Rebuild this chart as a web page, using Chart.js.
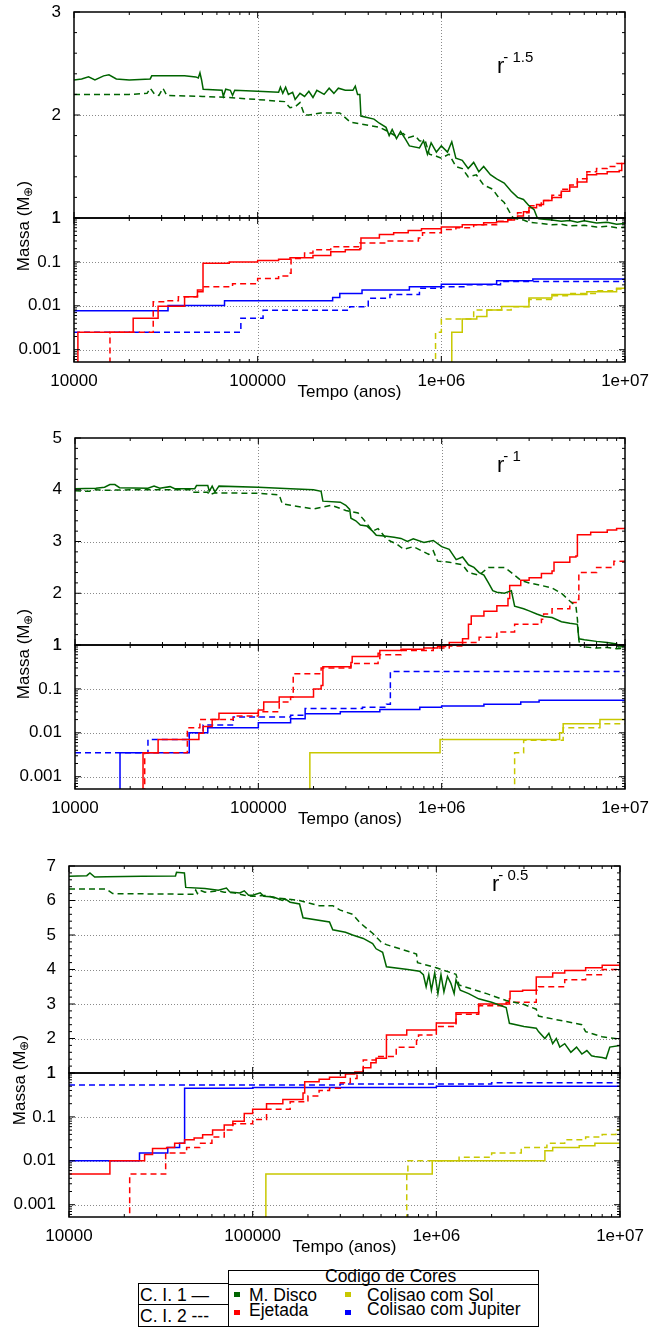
<!DOCTYPE html>
<html>
<head>
<meta charset="utf-8">
<script src="https://cdn.jsdelivr.net/npm/chart.js@4.4.0/dist/chart.umd.min.js"></script>
<style>
  body { margin: 0; background: #fff; width: 656px; height: 1327px; position: relative; overflow: hidden;
         font-family: "Liberation Sans", Arial, Helvetica, sans-serif; color: #000; }
  canvas { position: absolute; left: 0; }
  .ylab { position: absolute; width: 140px; height: 20px; line-height: 20px; text-align: center;
          font-size: 17px; transform: rotate(-90deg); white-space: nowrap; }
  .note { position: absolute; font-size: 22px; line-height: 22px; white-space: nowrap; }
  .note span { font-size: 15px; position: relative; top: -11px; margin-left: -1px; }
  .box { position: absolute; border: 1px solid #000; box-sizing: border-box; }
  .hl { position: absolute; height: 1px; background: #000; }
  .lt { position: absolute; font-size: 17.5px; line-height: 20px; white-space: nowrap; }
  .sq { position: absolute; width: 6px; height: 5px; }
</style>
</head>
<body>
<canvas id="u1"></canvas><canvas id="l1"></canvas>
<canvas id="u2"></canvas><canvas id="l2"></canvas>
<canvas id="u3"></canvas><canvas id="l3"></canvas>

<div class="ylab" style="left:-46px;top:216px">Massa (M<span style="font-size:12px;vertical-align:-3px">⊕</span>)</div>
<div class="ylab" style="left:-46px;top:644px">Massa (M<span style="font-size:12px;vertical-align:-3px">⊕</span>)</div>
<div class="ylab" style="left:-50px;top:1070px">Massa (M<span style="font-size:12px;vertical-align:-3px">⊕</span>)</div>

<div class="note" style="left:497px;top:55px">r<span>- 1.5</span></div>
<div class="note" style="left:497px;top:454px">r<span>- 1</span></div>
<div class="note" style="left:492px;top:873px">r<span>- 0.5</span></div>

<div class="box" style="left:228px;top:1270px;width:311px;height:57px"></div>
<div class="hl" style="left:228px;top:1284px;width:311px"></div>
<div class="box" style="left:138px;top:1283px;width:91px;height:44px"></div>
<div class="hl" style="left:138px;top:1304px;width:91px"></div>
<div class="lt" style="left:325px;top:1266px">Codigo de Cores</div>
<div class="lt" style="left:140px;top:1285px">C. I. 1 —</div>
<div class="lt" style="left:140px;top:1306px">C. I. 2 ---</div>
<div class="sq" style="left:234px;top:1292px;background:#006400"></div>
<div class="lt" style="left:249px;top:1285px">M. Disco</div>
<div class="sq" style="left:234px;top:1310px;background:#ff0000"></div>
<div class="lt" style="left:249px;top:1300px">Ejetada</div>
<div class="sq" style="left:345px;top:1292px;background:#c8c800"></div>
<div class="lt" style="left:367px;top:1285px">Colisao com Sol</div>
<div class="sq" style="left:345px;top:1310px;background:#0000ff"></div>
<div class="lt" style="left:367px;top:1299px">Colisao com Jupiter</div>

<script>
// tick values and labels
const xTicks = [1e4, 1e5, 1e6, 1e7];
const xTickLabels = ['10000', '100000', '1e+06', '1e+07'];
const logTicks = [0.001, 0.01, 0.1, 1];
const logTickLabels = ['0.001', '0.01', '0.1', '1'];
const p1UpperTicks = [1, 2, 3];
const p2UpperTicks = [1, 2, 3, 4, 5];
const p3UpperTicks = [1, 2, 3, 4, 5, 6, 7];
const minorSteps = [2, 3, 4, 5, 6, 7, 8, 9];

// panel 1 (r^-1.5): [tempo, massa]; A = C. I. 1 (solid), B = C. I. 2 (dashed)
const p1DiscoA = [[1e4,2.34],[1.1e4,2.35],[1.2e4,2.37],[1.3e4,2.34],[1.45e4,2.38],[1.55e4,2.39],[1.7e4,2.35],[2e4,2.34],[2.6e4,2.35],[2.65e4,2.38],[4e4,2.38],[4.6e4,2.37],[4.75e4,2.36],[4.85e4,2.41],[4.95e4,2.34],[5.05e4,2.25],[6.4e4,2.24],[6.5e4,2.18],[6.7e4,2.25],[7.1e4,2.24],[7.3e4,2.19],[7.5e4,2.24],[1e5,2.23],[1.3e5,2.22],[1.33e5,2.27],[1.37e5,2.21],[1.42e5,2.27],[1.47e5,2.2],[1.55e5,2.22],[1.6e5,2.15],[1.7e5,2.21],[1.8e5,2.18],[1.9e5,2.23],[2e5,2.17],[2.1e5,2.24],[2.3e5,2.2],[2.45e5,2.26],[2.6e5,2.21],[2.75e5,2.26],[3e5,2.24],[3.3e5,2.24],[3.4e5,2.28],[3.5e5,2.2],[3.6e5,2.2],[3.65e5,1.99],[4.3e5,1.96],[4.6e5,1.92],[5e5,1.88],[5.2e5,1.8],[5.4e5,1.86],[5.7e5,1.77],[6e5,1.84],[6.4e5,1.76],[6.7e5,1.7],[7.6e5,1.68],[8e5,1.75],[8.4e5,1.62],[8.8e5,1.73],[9.4e5,1.64],[1e6,1.7],[1.08e6,1.64],[1.14e6,1.74],[1.2e6,1.58],[1.3e6,1.56],[1.4e6,1.48],[1.5e6,1.54],[1.6e6,1.45],[1.7e6,1.5],[1.85e6,1.42],[2e6,1.38],[2.2e6,1.34],[2.4e6,1.26],[2.6e6,1.2],[2.8e6,1.18],[3e6,1.12],[3.2e6,1.08],[3.4e6,0.96],[4e6,0.9],[4.5e6,0.84],[5e6,0.88],[5.5e6,0.8],[6e6,0.86],[7e6,0.77],[8e6,0.8],[9e6,0.72],[1e7,0.75]];
const p1DiscoB = [[1e4,2.2],[2e4,2.2],[2.5e4,2.21],[2.6e4,2.26],[2.75e4,2.2],[2.9e4,2.19],[3.05e4,2.26],[3.2e4,2.19],[5e4,2.18],[7e4,2.17],[1e5,2.15],[1.4e5,2.13],[1.5e5,2.07],[1.6e5,2.08],[1.7e5,2.12],[1.8e5,2.0],[1.9e5,2.0],[2.2e5,2.02],[2.8e5,2.02],[3.2e5,1.93],[4e5,1.9],[4.6e5,1.88],[5e5,1.85],[5.6e5,1.8],[6.2e5,1.82],[6.6e5,1.78],[7.2e5,1.8],[7.6e5,1.75],[8.2e5,1.74],[8.6e5,1.62],[9.4e5,1.6],[1e6,1.58],[1.1e6,1.62],[1.2e6,1.5],[1.3e6,1.48],[1.4e6,1.4],[1.55e6,1.42],[1.7e6,1.32],[1.9e6,1.28],[2.05e6,1.2],[2.2e6,1.15],[2.35e6,1.06],[2.5e6,0.98],[2.8e6,0.9],[3e6,0.8],[3.5e6,0.75],[4e6,0.7],[4.5e6,0.72],[5e6,0.66],[6e6,0.68],[7e6,0.62],[8e6,0.65],[9e6,0.6],[1e7,0.62]];
const p1EjetA = [[1e4,1e-5],[1.05e4,0.0025],[2.1e4,0.0052],[2.87e4,0.0098],[4e4,0.016],[4.7e4,0.021],[5.04e4,0.093],[7e4,0.1],[1e5,0.107],[1.3e5,0.115],[1.5e5,0.125],[2e5,0.14],[2.5e5,0.17],[3e5,0.19],[3.6e5,0.2],[3.65e5,0.35],[4.6e5,0.42],[5.5e5,0.46],[6.6e5,0.52],[7.8e5,0.57],[1e6,0.62],[1.3e6,0.7],[1.7e6,0.78],[2e6,0.82],[2.3e6,0.9],[2.5e6,0.97],[2.6e6,1.02],[2.8e6,1.06],[3e6,1.1],[3.3e6,1.13],[3.6e6,1.17],[4e6,1.2],[4.5e6,1.26],[5e6,1.3],[5.5e6,1.35],[6.2e6,1.42],[7e6,1.43],[8e6,1.45],[9.3e6,1.46],[9.6e6,1.53],[1e7,1.55]];
const p1EjetB = [[1e4,1e-5],[1.57e4,0.0025],[2.7e4,0.0123],[3.2e4,0.013],[3.7e4,0.016],[4.7e4,0.023],[5e4,0.027],[7.3e4,0.032],[1e5,0.042],[1.3e5,0.048],[1.5e5,0.055],[1.52e5,0.12],[1.8e5,0.16],[2e5,0.19],[2.5e5,0.22],[3.6e5,0.27],[5e5,0.3],[7.5e5,0.35],[7.9e5,0.46],[1e6,0.55],[1.2e6,0.6],[1.5e6,0.7],[2e6,0.84],[2.3e6,0.92],[2.45e6,1.0],[2.6e6,1.05],[3e6,1.12],[3.5e6,1.17],[4e6,1.22],[4.5e6,1.28],[5e6,1.32],[5.5e6,1.38],[6.2e6,1.45],[7e6,1.48],[8e6,1.5],[9e6,1.53],[1e7,1.57]];
const p1SolA = [[1e4,1e-5],[1.14e6,0.0025],[1.3e6,0.005],[1.56e6,0.0057],[1.77e6,0.008],[2.13e6,0.0097],[3e6,0.015],[4e6,0.018],[6.2e6,0.021],[9e6,0.025],[1e7,0.028]];
const p1SolB = [[1e4,1e-5],[9.3e5,0.0025],[1e6,0.005],[1.5e6,0.008],[2.4e6,0.0095],[3e6,0.014],[4e6,0.017],[5e6,0.019],[7e6,0.022],[9e6,0.024],[1e7,0.026]];
const p1JupA = [[1e4,0.0077],[3.25e4,0.0101],[6.6e4,0.013],[2.56e5,0.0155],[2.8e5,0.019],[3.7e5,0.023],[6.7e5,0.027],[1e6,0.031],[2e6,0.037],[3.15e6,0.041],[1e7,0.041]];
const p1JupB = [[1e4,0.0025],[8.1e4,0.0052],[1.07e5,0.0079],[3.17e5,0.0095],[4e5,0.0148],[5.25e5,0.018],[7.6e5,0.025],[1e6,0.027],[1.37e6,0.03],[2.1e6,0.036],[1e7,0.036]];

// panel 2 (r^-1)
const p2DiscoA = [[1e4,4.02],[1.3e4,4.03],[1.45e4,4.05],[1.55e4,4.1],[1.65e4,4.1],[1.75e4,4.04],[2.5e4,4.03],[2.7e4,4.07],[2.9e4,4.03],[3.3e4,4.06],[3.5e4,4.02],[4.5e4,4.02],[4.6e4,4.08],[5.3e4,4.08],[5.4e4,3.97],[5.6e4,4.07],[5.8e4,3.96],[6.1e4,4.07],[1e5,4.05],[1.5e5,4.02],[2e5,4.0],[2.2e5,3.97],[2.25e5,3.78],[2.8e5,3.76],[3e5,3.7],[3.15e5,3.62],[3.2e5,3.45],[3.4e5,3.4],[3.6e5,3.32],[3.9e5,3.3],[4.2e5,3.2],[4.4e5,3.12],[5e5,3.1],[5.5e5,3.08],[6e5,3.06],[6.5e5,3.0],[7e5,3.05],[8e5,2.98],[9e5,3.02],[1e6,2.9],[1.1e6,2.85],[1.2e6,2.65],[1.3e6,2.7],[1.4e6,2.55],[1.5e6,2.5],[1.6e6,2.4],[1.7e6,2.35],[1.8e6,2.2],[1.9e6,2.05],[2e6,2.02],[2.2e6,2.0],[2.4e6,2.05],[2.5e6,1.75],[2.8e6,1.7],[3e6,1.66],[3.3e6,1.6],[3.6e6,1.55],[4e6,1.53],[4.5e6,1.45],[5e6,1.42],[5.5e6,1.4],[5.6e6,1.12],[6e6,1.1],[7e6,1.07],[8e6,1.05],[9e6,1.02],[9.2e6,0.9],[1e7,0.92]];
const p2DiscoB = [[1e4,3.98],[1.2e4,3.97],[1.25e4,4.0],[1.5e4,3.99],[2e4,4.0],[3e4,4.0],[4.3e4,4.0],[4.4e4,3.95],[5.3e4,3.95],[5.4e4,3.9],[5.8e4,3.94],[1e5,3.93],[1.3e5,3.9],[1.35e5,3.73],[1.5e5,3.7],[2e5,3.63],[2.5e5,3.7],[3e5,3.6],[3.5e5,3.55],[3.8e5,3.4],[4.2e5,3.2],[4.5e5,3.25],[5e5,3.05],[5.3e5,3.0],[5.7e5,2.95],[6.2e5,2.85],[7e5,2.9],[8e5,2.8],[8.5e5,2.75],[9e5,2.82],[9.5e5,2.62],[1.1e6,2.6],[1.3e6,2.55],[1.4e6,2.4],[1.6e6,2.35],[1.8e6,2.5],[2.2e6,2.5],[2.4e6,2.4],[2.7e6,2.25],[3e6,2.2],[3.5e6,2.15],[4e6,2.1],[4.5e6,2.0],[5e6,1.85],[5.4e6,1.75],[5.5e6,1.5],[5.6e6,1.1],[5.7e6,0.95],[6e6,0.9],[7e6,0.85],[8e6,0.88],[9e6,0.82],[1e7,0.85]];
const p2EjetA = [[1e4,1e-5],[2.35e4,0.0035],[2.84e4,0.007],[4.74e4,0.0098],[5e4,0.014],[5.6e4,0.02],[6.1e4,0.028],[1e5,0.033],[1.07e5,0.05],[1.3e5,0.065],[2e5,0.1],[2.2e5,0.12],[2.25e5,0.32],[3.2e5,0.4],[3.25e5,0.55],[4.5e5,0.65],[4.6e5,0.75],[6e5,0.8],[8e5,0.85],[9.5e5,0.92],[1.05e6,1.0],[1.1e6,1.05],[1.3e6,1.12],[1.4e6,1.4],[1.45e6,1.56],[1.7e6,1.65],[2e6,1.76],[2.3e6,1.9],[2.35e6,2.15],[2.7e6,2.25],[3e6,2.3],[3.5e6,2.38],[4e6,2.43],[4.1e6,2.6],[5e6,2.7],[5.4e6,2.72],[5.5e6,3.13],[6.5e6,3.18],[8e6,3.22],[9e6,3.25],[1e7,3.27]];
const p2EjetB = [[1e4,1e-5],[2.4e4,0.0035],[4.1e4,0.013],[4.8e4,0.02],[7.3e4,0.024],[1e5,0.03],[1.3e5,0.05],[1.5e5,0.065],[1.55e5,0.22],[2.2e5,0.3],[3.2e5,0.38],[4.5e5,0.45],[4.6e5,0.6],[6e5,0.75],[9e5,0.85],[1.1e6,0.95],[1.3e6,1.05],[1.6e6,1.15],[2e6,1.25],[2.5e6,1.4],[3.5e6,1.5],[3.6e6,1.6],[4e6,1.7],[5e6,1.82],[5.5e6,1.88],[5.6e6,2.4],[7e6,2.5],[8.5e6,2.55],[8.7e6,2.62],[1e7,2.65]];
const p2SolA = [[1e4,1e-5],[1.91e5,0.0035],[9.8e5,0.007],[4.4e6,0.01],[4.6e6,0.016],[7.3e6,0.02],[1e7,0.02]];
const p2SolB = [[1e4,1e-5],[2.5e6,0.0035],[2.8e6,0.0068],[4.6e6,0.013],[7.3e6,0.016],[1e7,0.016]];
const p2JupA = [[1e4,1e-5],[1.76e4,0.0035],[4.2e4,0.01],[5.3e4,0.013],[1e5,0.017],[1.5e5,0.021],[1.8e5,0.027],[2.8e5,0.03],[4.6e5,0.034],[7.6e5,0.038],[1e6,0.041],[1.7e6,0.045],[2.7e6,0.05],[3.4e6,0.055],[1e7,0.055]];
const p2JupB = [[1e4,0.0035],[2.5e4,0.007],[4.2e4,0.01],[5e4,0.015],[7.3e4,0.023],[1.5e5,0.025],[1.8e5,0.036],[3.7e5,0.038],[5e5,0.045],[5.25e5,0.25],[1e7,0.26]];

// panel 3 (r^-0.5)
const p3DiscoA = [[1e4,6.7],[1.25e4,6.72],[1.3e4,6.8],[1.38e4,6.68],[1.6e4,6.69],[2.5e4,6.7],[3.8e4,6.71],[3.85e4,6.82],[4.25e4,6.8],[4.32e4,6.38],[5.5e4,6.35],[6.5e4,6.3],[7.2e4,6.36],[7.5e4,6.25],[8.5e4,6.22],[9e4,6.28],[9.5e4,6.15],[1e5,6.15],[1.1e5,6.22],[1.15e5,6.12],[1.3e5,6.1],[1.45e5,6.0],[1.5e5,6.05],[1.6e5,5.95],[1.8e5,5.9],[1.88e5,5.5],[2.62e5,5.38],[2.73e5,5.15],[3.2e5,5.08],[3.5e5,5.0],[4e5,4.9],[4.5e5,4.75],[4.7e5,4.6],[5.1e5,4.5],[5.35e5,4.08],[7e5,4.0],[8.1e5,3.95],[8.5e5,3.85],[8.8e5,3.5],[9.1e5,3.85],[9.4e5,3.4],[9.8e5,3.9],[1.02e6,3.3],[1.06e6,3.85],[1.1e6,3.35],[1.15e6,3.8],[1.2e6,3.6],[1.25e6,3.3],[1.28e6,3.7],[1.35e6,3.4],[1.5e6,3.3],[1.7e6,3.15],[2e6,3.05],[2.4e6,2.9],[2.5e6,2.44],[3e6,2.35],[3.5e6,2.3],[3.6e6,2.2],[3.9e6,2.0],[4.1e6,2.15],[4.3e6,1.85],[4.5e6,2.0],[4.7e6,1.75],[5e6,1.85],[5.4e6,1.6],[5.8e6,1.75],[6.2e6,1.55],[6.6e6,1.65],[7e6,1.5],[7.3e6,1.48],[8e6,1.45],[8.4e6,1.42],[8.8e6,1.75],[1e7,1.8]];
const p3DiscoB = [[1e4,6.33],[1.6e4,6.33],[1.73e4,6.2],[4.8e4,6.18],[4.9e4,6.3],[5e4,6.2],[5.15e4,6.3],[5.5e4,6.24],[6.5e4,6.28],[7e4,6.24],[8e4,6.22],[9e4,6.15],[1e5,6.12],[1.2e5,6.15],[1.3e5,6.08],[1.5e5,6.05],[1.8e5,6.0],[2.3e5,5.85],[2.73e5,5.85],[3e5,5.72],[3.5e5,5.6],[3.85e5,5.35],[4.5e5,5.05],[5e5,4.8],[5.35e5,4.72],[7.8e5,4.45],[7.9e5,4.2],[1e6,4.05],[1.28e6,3.86],[1.33e6,3.55],[1.88e6,3.3],[2.4e6,3.1],[2.95e6,3.0],[3.5e6,2.85],[3.6e6,2.65],[6.2e6,2.4],[6.5e6,2.2],[8e6,2.05],[1e7,1.98]];
const p3EjetA = [[1e4,0.005],[1.67e4,0.01],[2.58e4,0.014],[2.85e4,0.019],[3.4e4,0.02],[3.76e4,0.025],[4.26e4,0.03],[4.8e4,0.033],[5.34e4,0.039],[6.05e4,0.05],[7e4,0.065],[7.8e4,0.08],[9e4,0.12],[1e5,0.15],[1.19e5,0.2],[1.46e5,0.25],[1.88e5,0.35],[1.92e5,0.63],[2.3e5,0.72],[2.62e5,0.8],[3.2e5,0.95],[3.6e5,1.03],[4e5,1.15],[4.4e5,1.3],[4.7e5,1.43],[5.35e5,2.1],[6.9e5,2.25],[1e6,2.45],[1.28e6,2.75],[1.7e6,3.0],[2.5e6,3.15],[2.52e6,3.37],[2.95e6,3.4],[3.5e6,3.78],[4.3e6,3.9],[5e6,3.97],[6.5e6,4.05],[8e6,4.12],[1e7,4.22]];
const p3EjetB = [[1e4,1e-5],[2.14e4,0.005],[3.36e4,0.015],[4.37e4,0.02],[5.15e4,0.025],[6e4,0.035],[7e4,0.05],[7.8e4,0.07],[1e5,0.087],[1.19e5,0.15],[1.6e5,0.22],[2e5,0.3],[2.3e5,0.4],[2.62e5,0.45],[3e5,0.6],[3.4e5,0.75],[3.7e5,0.9],[3.85e5,1.05],[4e5,1.38],[4.7e5,1.48],[6.05e5,1.75],[7.8e5,1.95],[8e5,2.1],[1e6,2.35],[1.28e6,2.7],[1.7e6,2.95],[2.4e6,3.05],[3.5e6,3.4],[3.6e6,3.5],[5e6,3.7],[6.5e6,3.85],[8e6,4.0],[1e7,4.2]];
const p3SolA = [[1e4,1e-5],[1.18e5,0.005],[9.5e5,0.01],[3.9e6,0.017],[4.3e6,0.02],[6e6,0.022],[7.3e6,0.025],[1e7,0.025]];
const p3SolB = [[1e4,1e-5],[6.9e5,0.005],[7e5,0.01],[1.33e6,0.012],[2e6,0.015],[2.9e6,0.02],[4e6,0.025],[5e6,0.03],[6.5e6,0.035],[8e6,0.04],[9.5e6,0.05],[1e7,0.055]];
const p3JupA = [[1e4,0.01],[2.42e4,0.015],[3.45e4,0.02],[4e4,0.025],[4.26e4,0.45],[1e5,0.47],[1e6,0.5],[1e7,0.51]];
const p3JupB = [[1e4,0.53],[3e5,0.56],[2e6,0.6],[1e7,0.62]];

const colors = { disco: '#006400', ejet: '#ff0000', sol: '#c8c800', jup: '#0000ff' };

// pixel frame of each panel: top, boundary at 1, bottom, left, right
const panels = [
  { ids: ['u1', 'l1'], T: 12, B: 218, L: 362, X0: 74, X1: 625, upper: p1UpperTicks,
    series: [[p1DiscoA,'disco',0],[p1DiscoB,'disco',1],[p1EjetA,'ejet',0],[p1EjetB,'ejet',1],[p1SolA,'sol',0],[p1SolB,'sol',1],[p1JupA,'jup',0],[p1JupB,'jup',1]] },
  { ids: ['u2', 'l2'], T: 438, B: 645, L: 789, X0: 75, X1: 625, upper: p2UpperTicks,
    series: [[p2DiscoA,'disco',0],[p2DiscoB,'disco',1],[p2EjetA,'ejet',0],[p2EjetB,'ejet',1],[p2SolA,'sol',0],[p2SolB,'sol',1],[p2JupA,'jup',0],[p2JupB,'jup',1]] },
  { ids: ['u3', 'l3'], T: 866, B: 1073, L: 1217, X0: 69, X1: 620, upper: p3UpperTicks,
    series: [[p3DiscoA,'disco',0],[p3DiscoB,'disco',1],[p3EjetA,'ejet',0],[p3EjetB,'ejet',1],[p3SolA,'sol',0],[p3SolB,'sol',1],[p3JupA,'jup',0],[p3JupB,'jup',1]] }
];

Chart.defaults.font.family = '"Liberation Sans", Arial, Helvetica, sans-serif';
Chart.defaults.font.size = 17;
Chart.defaults.color = '#000';
Chart.defaults.animation = false;

const logMin = 0.000525;
const xMinor = [];
[1e4, 1e5, 1e6].forEach(d => minorSteps.forEach(m => xMinor.push(d * m)));
const logMinor = [];
[1e-4, 1e-3, 1e-2, 1e-1].forEach(d => minorSteps.forEach(m => { if (d * m > logMin && d * m < 1) logMinor.push(d * m); }));

// gnuplot-like frame: dotted grid, inward ticks, black box
function gnuBox(o) {
  return {
    id: 'gnuBox',
    beforeDatasetsDraw(chart) {
      const { ctx, chartArea: a, scales: { x, y } } = chart;
      ctx.save();
      ctx.strokeStyle = '#8a8a8a';
      ctx.lineWidth = 1;
      ctx.setLineDash([1, 2]);
      ctx.beginPath();
      xTicks.forEach(v => {
        const px = Math.round(x.getPixelForValue(v)) + 0.5;
        if (px > a.left + 2 && px < a.right - 2) { ctx.moveTo(px, a.top); ctx.lineTo(px, a.bottom); }
      });
      o.yMajor.forEach(v => {
        const py = Math.round(y.getPixelForValue(v)) + 0.5;
        if (py > a.top + 2 && py < a.bottom - 2) { ctx.moveTo(a.left, py); ctx.lineTo(a.right, py); }
      });
      ctx.stroke();
      ctx.restore();
    },
    afterDatasetsDraw(chart) {
      const { ctx, chartArea: a, scales: { x, y } } = chart;
      ctx.save();
      ctx.strokeStyle = '#000';
      ctx.lineWidth = 1;
      ctx.beginPath();
      const tx = (v, len) => {
        const px = x.getPixelForValue(v);
        ctx.moveTo(px, a.bottom); ctx.lineTo(px, a.bottom - len);
        ctx.moveTo(px, a.top); ctx.lineTo(px, a.top + len);
      };
      const ty = (v, len) => {
        const py = y.getPixelForValue(v);
        ctx.moveTo(a.left, py); ctx.lineTo(a.left + len, py);
        ctx.moveTo(a.right, py); ctx.lineTo(a.right - len, py);
      };
      xTicks.forEach(v => tx(v, 6));
      xMinor.forEach(v => tx(v, 3));
      o.yMajor.forEach(v => ty(v, 6));
      o.yMinor.forEach(v => ty(v, 3));
      ctx.stroke();
      ctx.lineWidth = 1.5;
      ctx.strokeRect(a.left, a.top, a.right - a.left, a.bottom - a.top);
      ctx.restore();
    }
  };
}

function datasets(series) {
  // stepped 'before': horizontal to the next time, then jump to the new mass
  return series.map(([pts, kind, dashed]) => ({
    data: pts,
    borderColor: colors[kind],
    borderWidth: 1.5,
    borderDash: dashed ? [6, 4] : [],
    pointRadius: 0,
    fill: false,
    tension: 0,
    stepped: kind === 'disco' ? false : 'before'
  }));
}

const pad = 22;

panels.forEach(p => {
  // upper, linear part (massa >= 1)
  const cu = document.getElementById(p.ids[0]);
  cu.width = 656;
  cu.height = p.B - p.T + 2 * pad;
  cu.style.top = (p.T - pad) + 'px';
  const upperMinor = [];
  for (let k = 1; k < (p.upper[p.upper.length - 1] - 1) * 5; k++) if (k % 5) upperMinor.push(1 + k * 0.2);
  new Chart(cu, {
    type: 'line',
    data: { datasets: datasets(p.series) },
    plugins: [gnuBox({ yMajor: p.upper, yMinor: upperMinor })],
    options: {
      responsive: false,
      layout: { padding: { left: 0, right: 656 - p.X1, top: pad, bottom: pad } },
      plugins: { legend: { display: false }, tooltip: { enabled: false } },
      scales: {
        x: { type: 'logarithmic', min: 1e4, max: 1e7, grid: { display: false }, border: { display: false },
             ticks: { display: false }, afterFit: s => { s.height = 0; } },
        y: { type: 'linear', min: 1, max: p.upper[p.upper.length - 1], grid: { display: false }, border: { display: false },
             ticks: { padding: 5, callback: v => String(v) },
             afterBuildTicks: s => { s.ticks = p.upper.map(v => ({ value: v })); },
             afterFit: s => { s.width = p.X0; } }
      }
    }
  });

  // lower, logarithmic part (massa <= 1)
  const cl = document.getElementById(p.ids[1]);
  cl.width = 656;
  cl.height = p.L - p.B + pad + 45;
  cl.style.top = (p.B - pad) + 'px';
  new Chart(cl, {
    type: 'line',
    data: { datasets: datasets(p.series) },
    plugins: [gnuBox({ yMajor: logTicks, yMinor: logMinor })],
    options: {
      responsive: false,
      layout: { padding: { left: 0, right: 656 - p.X1, top: pad, bottom: 0 } },
      plugins: { legend: { display: false }, tooltip: { enabled: false } },
      scales: {
        x: { type: 'logarithmic', min: 1e4, max: 1e7, grid: { display: false }, border: { display: false },
             ticks: { padding: 1, autoSkip: false, maxRotation: 0,
                      callback: v => { const i = xTicks.indexOf(v); return i >= 0 ? xTickLabels[i] : ''; } },
             afterBuildTicks: s => { s.ticks = xTicks.map(v => ({ value: v })); },
             title: { display: true, text: 'Tempo (anos)', padding: { top: 0, bottom: 4 } },
             afterFit: s => { s.height = 45; } },
        y: { type: 'logarithmic', min: logMin, max: 1, grid: { display: false }, border: { display: false },
             ticks: { padding: 5, callback: v => { const i = logTicks.indexOf(v); return i >= 0 ? logTickLabels[i] : ''; } },
             afterBuildTicks: s => { s.ticks = logTicks.map(v => ({ value: v })); },
             afterFit: s => { s.width = p.X0; } }
      }
    }
  });
});
</script>
</body>
</html>
